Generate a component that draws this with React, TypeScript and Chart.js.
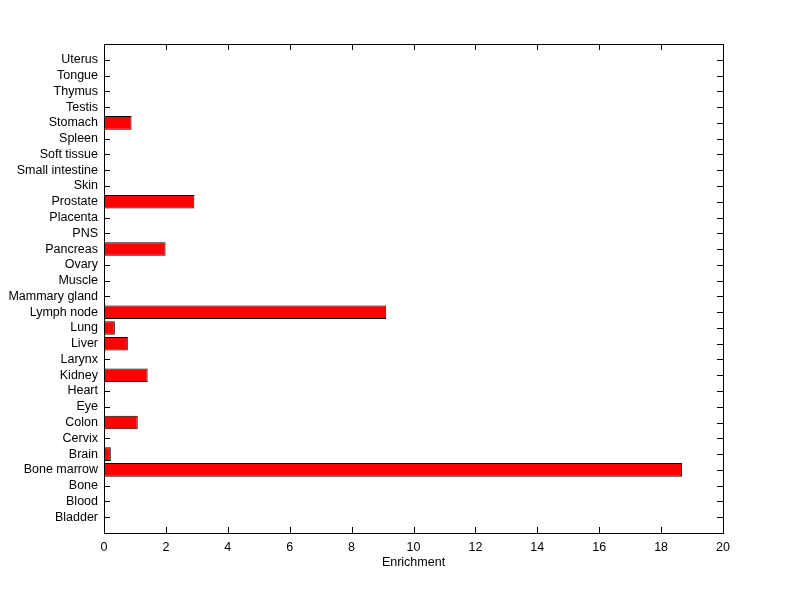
import React, { useEffect, useRef } from "react";
import { Chart, registerables } from "chart.js";

Chart.register(...registerables);

const tissues = [
  "Bladder", "Blood", "Bone", "Bone marrow", "Brain", "Cervix", "Colon", "Eye", "Heart",
  "Kidney", "Larynx", "Liver", "Lung", "Lymph node", "Mammary gland", "Muscle", "Ovary",
  "Pancreas", "PNS", "Placenta", "Prostate", "Skin", "Small intestine", "Soft tissue",
  "Spleen", "Stomach", "Testis", "Thymus", "Tongue", "Uterus",
];
const enrichment = [
  0, 0, 0, 18.68, 0.22, 0, 1.09, 0, 0,
  1.41, 0, 0.77, 0.35, 9.12, 0, 0, 0,
  1.99, 0, 0, 2.92, 0, 0, 0,
  0, 0.89, 0, 0, 0, 0,
];
const xTicks = [0, 2, 4, 6, 8, 10, 12, 14, 16, 18, 20];
const xLabel = "Enrichment";

const FONT = 'Arial, "Liberation Sans", Helvetica, sans-serif';

const axesPlugin = {
  id: "matlabAxes",
  beforeDatasetsDraw(chart: any) {
    const { ctx, chartArea: a, scales } = chart;
    ctx.save();
    ctx.strokeStyle = "#000";
    ctx.lineWidth = 1;
    ctx.beginPath();
    const tl = 6;
    tissues.forEach((_, i) => {
      const y = Math.round(scales.y.getPixelForValue(i + 1)) + 0.5;
      ctx.moveTo(a.left, y);
      ctx.lineTo(a.left + tl, y);
      ctx.moveTo(a.right, y);
      ctx.lineTo(a.right - tl, y);
    });
    xTicks.forEach((v) => {
      const x = Math.round(scales.x.getPixelForValue(v)) + 0.5;
      ctx.moveTo(x, a.bottom);
      ctx.lineTo(x, a.bottom - tl);
      ctx.moveTo(x, a.top);
      ctx.lineTo(x, a.top + tl);
    });
    ctx.stroke();
    ctx.restore();
  },
  afterDatasetsDraw(chart: any) {
    const { ctx, chartArea: a } = chart;
    ctx.save();
    ctx.strokeStyle = "#000";
    ctx.lineWidth = 1;
    ctx.strokeRect(Math.round(a.left) + 0.5, Math.round(a.top) + 0.5, Math.round(a.right - a.left), Math.round(a.bottom - a.top));
    ctx.restore();
  },
};

export default function App() {
  const ref = useRef<HTMLCanvasElement>(null);
  useEffect(() => {
    if (!ref.current) return;
    const chart = new Chart(ref.current, {
      type: "bar",
      data: {
        datasets: [
          {
            data: enrichment.map((v, i) => ({ x: v, y: i + 1 })),
            backgroundColor: "#ff0000",
            borderColor: "#000000",
            borderWidth: 1,
            borderSkipped: false,
            barPercentage: 1,
            categoryPercentage: 0.86,
          },
        ],
      },
      options: {
        indexAxis: "y",
        animation: false,
        responsive: false,
        maintainAspectRatio: false,
        layout: { padding: { left: 0, top: 44, right: 77, bottom: 29 } },
        plugins: { legend: { display: false }, tooltip: { enabled: false } },
        scales: {
          x: {
            type: "linear",
            min: 0,
            max: 20,
            afterBuildTicks: (s: any) => {
              s.ticks = xTicks.map((v) => ({ value: v }));
            },
            afterFit: (s: any) => {
              s.height = 37;
            },
            grid: { display: false, drawTicks: false },
            border: { display: false },
            ticks: { color: "#000", font: { family: FONT, size: 12.5 }, padding: 7, maxRotation: 0 },
            title: { display: true, text: xLabel, color: "#000", font: { family: FONT, size: 12.5 }, padding: { top: 0, bottom: 0 } },
          },
          y: {
            type: "linear",
            offset: false,
            min: 0,
            max: 31,
            afterBuildTicks: (s: any) => {
              s.ticks = tissues.map((_, i) => ({ value: i + 1 }));
            },
            afterFit: (s: any) => {
              s.width = 104;
            },
            grid: { display: false, drawTicks: false },
            border: { display: false },
            ticks: {
              color: "#000",
              autoSkip: false,
              font: { family: FONT, size: 12.5 },
              padding: 6,
              callback: (v: any) => tissues[Number(v) - 1] ?? "",
            },
          },
        },
      },
      plugins: [axesPlugin],
    } as any);
    return () => chart.destroy();
  }, []);
  return (
    <div style={{ position: "absolute", left: 0, top: 0, width: 800, height: 599, background: "#fff" }}>
      <canvas ref={ref} width={800} height={599} style={{ width: 800, height: 599 }} />
    </div>
  );
}
